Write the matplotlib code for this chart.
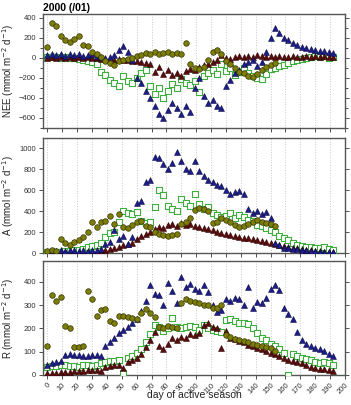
import numpy as np
import matplotlib
matplotlib.use("Agg")
import matplotlib.pyplot as plt

plt.rcParams["font.family"] = ["Liberation Sans", "DejaVu Sans"]

nan = np.nan

# day of active season (every 3rd day)
days = np.arange(0, 193, 3)

# --- NEE (mmol m-2 d-1) ---
nee_olive = [110, 350, 320, 220, 180, 160, 190, 220, 130, 120, 60, 40, 10, -30, -50, -70,
             -30, -20, -10, 0, 20, 30, 50, 40, 60, 40, 50, 60, 40, 50, 40, 150,
             -60, -100, -110, -90, -20, 60, 80, 40, -30, -60, -100, -140, -150, -180, -190, -160,
             -120, -90, -70, -50] + [nan] * 13
nee_blue = [30, 40, 30, 40, 20, 40, 30, 40, 20, 30, 40, 20, 10, 0, 10, 30,
            80, 120, 60, -20, -200, -250, -330, -400, -480, -560, -600, -520, -450, -500, -560, -480,
            -540, -300, -200, -380, -450, -420, -480, -500, -280, -220, -150, -120, -60, -40, -20, -80,
            -40, 60, 200, 300, 250, 200, 180, 150, 130, 110, 100, 90, 80, 70, 70, 60, 50]
nee_green = [10, 10, 5, 0, 5, 0, -5, -10, -20, -30, -40, -60, -140, -170, -220, -250,
             -280, -180, -230, -250, -200, -150, -120, -280, -360, -300, -400, -330, -260, -300, -210, -250,
             -270, -230, -340, -180, -150, -120, -160, -60, -130, -100, -170, -140, -100, -150, -180, -200,
             -210, -160, -110, -100, -80, -70, -50, -30, -20, -10, 0, 10, 20, 10, 20, 0, 10]
nee_red = [0, 5, 0, 5, 0, 5, 0, 5, 0, 5, 0, -5, -10, -15, -10, -20,
           -15, -25, -20, -30, -35, -40, -50, -60, -140, -90, -160, -120, -170, -150, -180, -130,
           -110, -120, -90, -70, -60, -40, -20, 30, 0, -10, 10, 20, 10, 20, 10, 30,
           20, 10, 20, 10, 20, 10, 10, 20, 10, 10, 15, 10, 20, 10, 15, 10, 5]

# --- A (mmol m-2 d-1) ---
a_olive = [20, 30, 20, 130, 100, 80, 110, 120, 150, 200, 300, 250, 300, 310, 350, 280,
           370, 250, 240, 270, 300, 310, 260, 250, 200, 180, 170, 160, 170, 180, 280, 300,
           330, 410, 430, 420, 400, 290, 300, 330, 320, 300, 270, 250, 260, 280, 300, 320,
           300, 290, 280, 260] + [nan] * 13
a_blue = [10, 20, 15, 25, 20, 30, 25, 20, 30, 20, 25, 30, 40, 90, 110, 220,
          130, 160, 90, 150, 480, 500, 680, 700, 920, 910, 850, 800, 860, 970, 880, 800,
          780, 880, 780, 740, 700, 680, 650, 640, 600, 560, 580, 590, 560, 420, 380, 400,
          370, 390, 330, 100, 80, 50, 45, 40, 35, 30, 25, 20, 15, 10, 10, 5, 5]
a_green = [5, 8, 10, 10, 15, 20, 25, 30, 40, 60, 70, 80, 100, 150, 190, 200,
           300, 400, 380, 370, 390, 310, 290, 300, 440, 600, 550, 450, 420, 400, 520, 480,
           450, 560, 470, 420, 440, 380, 360, 340, 350, 380, 330, 360, 340, 320, 310, 270,
           260, 240, 220, 200, 160, 140, 120, 100, 80, 65, 60, 55, 50, 45, 60, 40, 30]
a_red = [3, 4, 5, 5, 6, 6, 7, 8, 8, 9, 10, 12, 15, 25, 35, 45,
         60, 75, 85, 100, 130, 160, 180, 200, 230, 250, 240, 270, 280, 260, 290, 270,
         280, 260, 250, 240, 230, 220, 200, 190, 180, 170, 160, 150, 145, 140, 130, 125,
         115, 105, 95, 90, 80, 70, 60, 50, 45, 35, 30, 25, 20, 15, 12, 8, 5]

# --- R (mmol m-2 d-1) ---
r_olive = [125, 345, 320, 335, 210, 200, 120, 120, 125, 360, 325, 255, 280, 285, 230, 225,
           255, 255, 250, 245, 240, 265, 285, 265, 250, 205, 200, 210, 205, 200, 310, 325,
           320, 315, 310, 300, 300, 290, 290, 300, 170, 165, 155, 150, 145, 140, 135, 130,
           125, 120, 115, 105] + [nan] * 13
r_blue = [45, 50, 55, 60, 88, 90, 88, 85, 80, 82, 85, 85, 80, 125, 140, 160,
          180, 195, 205, 225, 240, 275, 320, 385, 350, 345, 300, 395, 360, 310, 420, 380,
          390, 370, 360, 385, 355, 300, 270, 280, 325, 320, 330, 325, 300, 380, 290, 315,
          310, 330, 370, 385, 365, 290, 260, 240, 185, 150, 135, 125, 115, 110, 105, 90, 80]
r_green = [35, 40, 38, 42, 45, 40, 38, 35, 45, 42, 40, 45, 50, 55, 58, 62,
           65, 10, 75, 80, 95, 110, 140, 175, 215, 205, 190, 200, 245, 205, 200, 205,
           210, 205, 195, 215, 200, 195, 190, 185, 235, 240, 230, 225, 225, 220, 200, 180,
           160, 150, 135, 125, 110, 95, 2, 90, 80, 75, 70, 65, 55, 50, 55, 50, 45]
r_red = [8, 10, 10, 12, 12, 14, 15, 15, 18, 20, 22, 22, 18, 35, 40, 42,
         45, 30, 55, 65, 75, 90, 120, 150, 185, 125, 110, 135, 160, 150, 165, 160,
         175, 170, 180, 215, 225, 205, 200, 115, 190, 160, 155, 145, 140, 130, 125, 115,
         110, 105, 95, 90, 80, 75, 65, 60, 55, 50, 45, 35, 30, 25, 25, 20, 15]

panels = [
    ("NEE", nee_olive, nee_blue, nee_green, nee_red, (-700, 440), 200, 100),
    ("A", a_olive, a_blue, a_green, a_red, (0, 1100), 200, None),
    ("R", r_olive, r_blue, r_green, r_red, (0, 490), 100, None),
]

fig = plt.figure(figsize=(3.51, 4.05), dpi=100)
rects = [
    [0.1225, 0.684, 0.860, 0.2815],
    [0.1225, 0.3753, 0.860, 0.284],
    [0.1225, 0.0741, 0.860, 0.2815],
]

for i, (name, yo, yb, yg, yr, ylim, major, minor) in enumerate(panels):
    ax = fig.add_axes(rects[i])
    ax.scatter(days, yg, marker="s", s=14, facecolor="white", edgecolor="#3fae3f", linewidth=0.8, zorder=3)
    ax.scatter(days, yr, marker="^", s=18, facecolor="#5a0c0c", edgecolor="#2a0000", linewidth=0.4, zorder=4)
    ax.scatter(days, yb, marker="^", s=18, facecolor="#1c1c8a", edgecolor="#0a0a40", linewidth=0.4, zorder=4)
    ax.scatter(days, yo, marker="o", s=16, facecolor="#7d7d0a", edgecolor="#333300", linewidth=0.5, zorder=5)

    ax.set_xlim(-3, 200)
    ax.set_ylim(*ylim)
    ax.set_xticks(np.arange(0, 201, 10))
    ax.set_yticks(np.arange(-600 if name == "NEE" else 0, ylim[1] + 1, major))
    if minor:
        ax.set_yticks(np.arange(-700, ylim[1] + 1, minor), minor=True)
    ax.grid(axis="x", linestyle=":", color="#c8c8c8", linewidth=0.7)
    ax.set_axisbelow(True)
    ax.tick_params(direction="out", length=3, width=0.6, labelsize=5.5, colors="#333333",
                   right=True, left=True, pad=2)
    ax.tick_params(which="minor", direction="out", length=2, width=0.5, right=True, left=True)
    for sp in ax.spines.values():
        sp.set_color("#555555")
        sp.set_linewidth(1.0)
    ax.set_ylabel(name + r" (mmol m$^{-2}$ d$^{-1}$)", fontsize=7, color="#222222")
    ax.yaxis.set_label_coords(-0.088, 0.5)
    if i < 2:
        ax.tick_params(labelbottom=False)
    else:
        plt.setp(ax.get_xticklabels(), rotation=45, ha="right", rotation_mode="anchor")
    if i == 0:
        ax.set_title("2000 (/01)", fontsize=7.5, fontweight="bold", loc="left", pad=2)

fig.text(0.555, 0.012, "day of active season", fontsize=7.5, color="#222222", ha="center", va="bottom")

fig.savefig("out.png", dpi=100)
